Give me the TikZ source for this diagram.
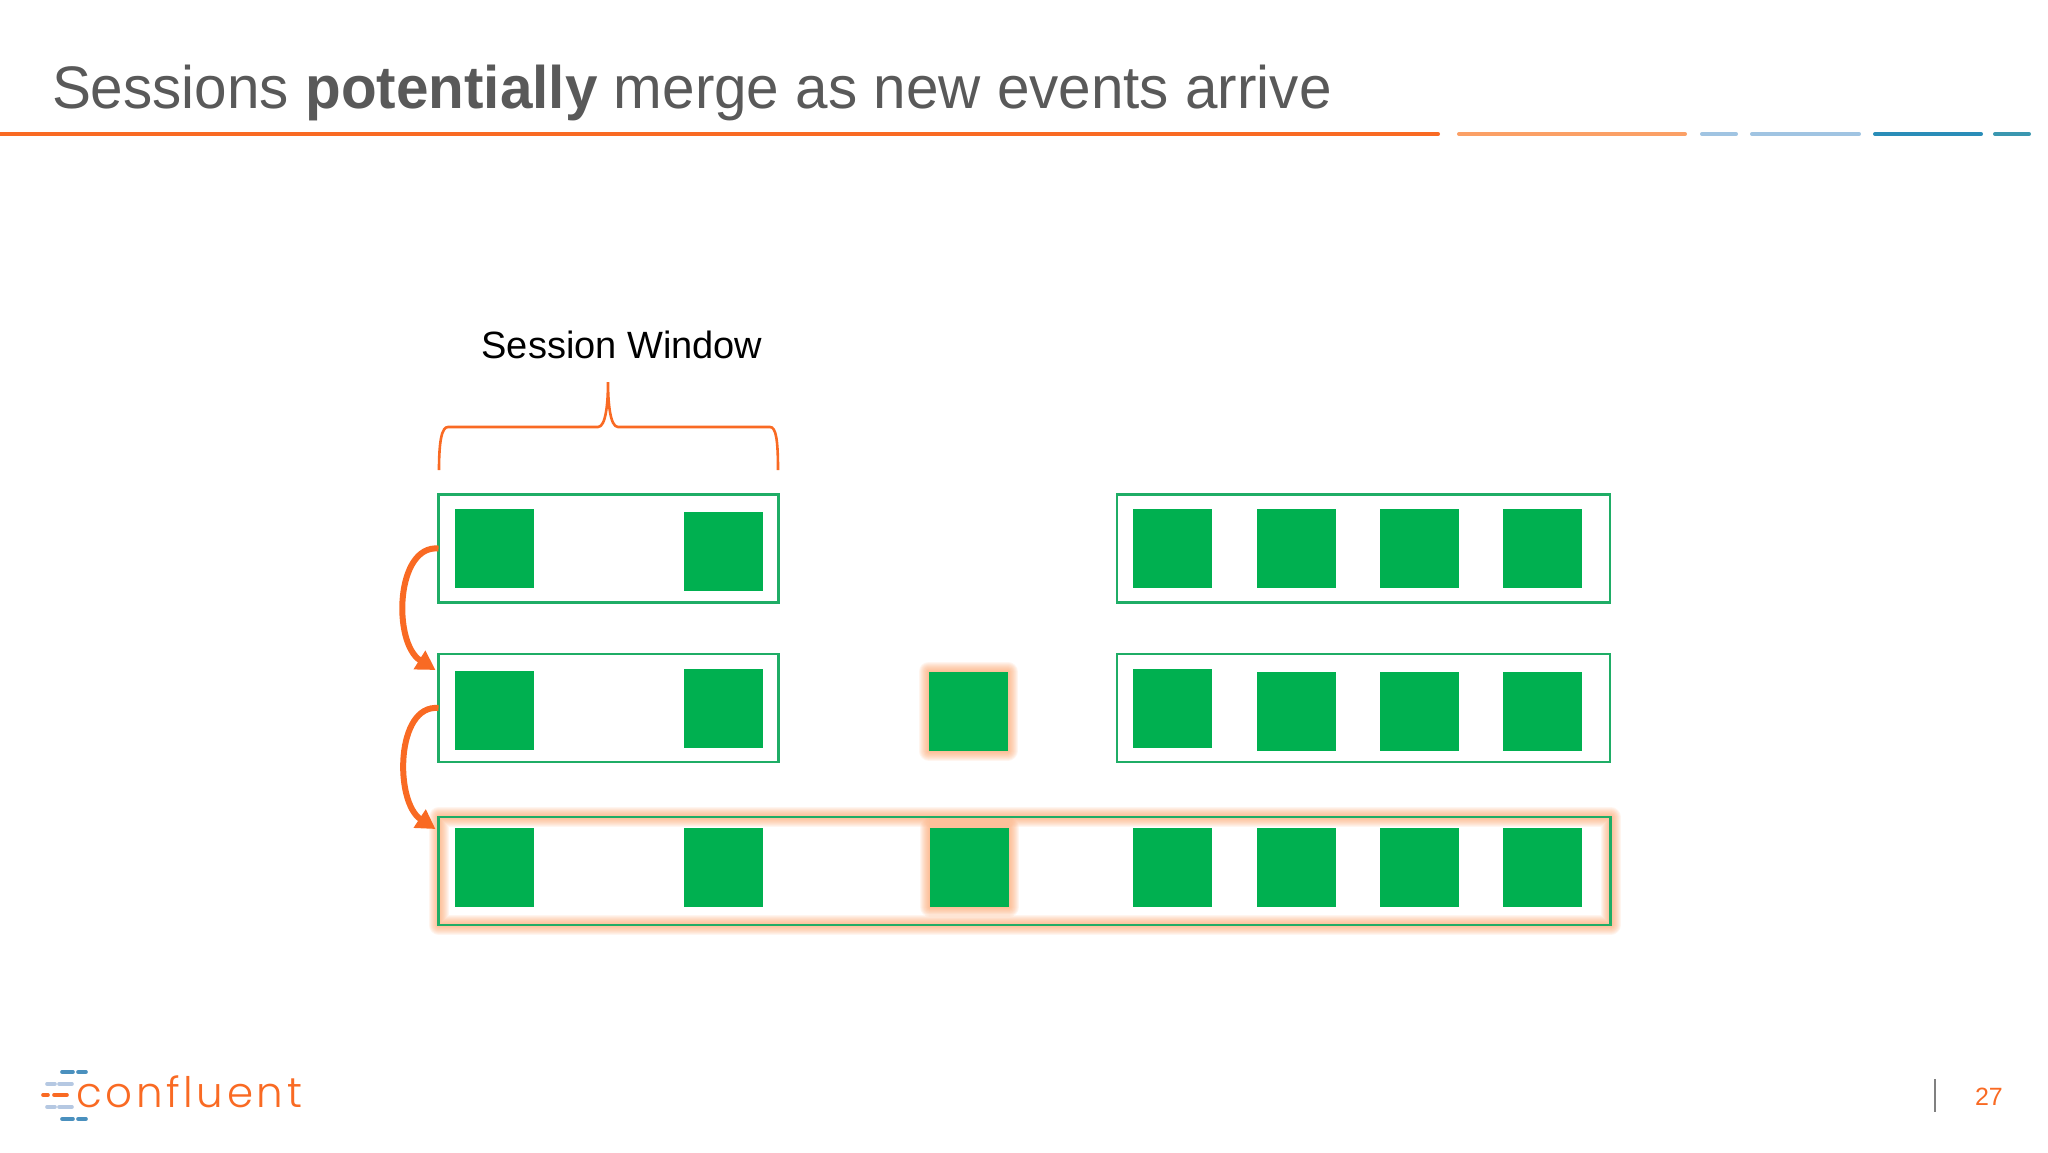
\documentclass[tikz,border=0pt]{standalone}
\usepackage{fontspec}
\setmainfont{Liberation Sans}
\newfontfamily\titlefont[FakeStretch=0.974]{Liberation Sans}
\newfontfamily\logofont[LetterSpace=8.7,UprightFont={* Light}]{Poppins}
\usetikzlibrary{arrows.meta,backgrounds}
\definecolor{cfOrange}{HTML}{F96A23}
\definecolor{cfPeach}{HTML}{FBA066}
\definecolor{cfGreen}{HTML}{00B050}
\definecolor{cfFrame}{HTML}{1FAD66}
\definecolor{cfGrey}{HTML}{595959}
\definecolor{cfSky}{HTML}{A0C4E2}
\definecolor{cfBlue}{HTML}{2A8DB8}
\definecolor{cfTeal}{HTML}{3A97B0}
\definecolor{cfDeep}{HTML}{4A90BE}
\definecolor{cfPale}{HTML}{B5C8E2}

\begin{document}
\begin{tikzpicture}[x=0.5pt,y=-0.5pt,every node/.style={inner sep=0pt,outer sep=0pt}]
	\tikzset{event/.style={fill=cfGreen,minimum size=39.5pt}}
	\tikzset{win/.style={draw=cfFrame,line width=1.1pt,minimum height=54pt}}
	\tikzset{rulebar/.style={line width=2pt,line cap=round}}
	\tikzset{merge/.style={draw=cfOrange,line width=3pt,-{Triangle[length=9.5pt,width=10.5pt]}}}
	\tikzset{glowline/.style={draw=cfPeach,opacity=0.1,line join=round}}
	\useasboundingbox (0,0) rectangle (2048,1152);

	\node[anchor=base west,text=cfGrey,font=\titlefont\fontsize{30}{36}\selectfont] (title) at (52,108) {Sessions \textbf{potentially} merge as new events arrive};
	\foreach \xa/\xb/\col in {0/1438/cfOrange,1459/1685/cfPeach,1702/1736/cfSky,1752/1859/cfSky,1875/1981/cfBlue,1995/2029/cfTeal}
		\draw[rulebar,\col] (\xa,134) -- (\xb,134);

	\node[anchor=base,font=\fontsize{19}{23}\selectfont] (winlabel) at (622,358) {Session Window};
	\coordinate (braceL) at (439,470);
	\coordinate (braceR) at (778,470);
	\coordinate (braceT) at (608,382);
	\draw[cfOrange,line width=1.3pt] (braceL) .. controls +(0,-30) and +(-6,0) .. (448,427) -- (598,427)
		.. controls +(8,0) and +(0,20) .. (braceT) .. controls +(0,20) and +(-8,0) .. (618,427) -- (770,427)
		.. controls +(6,0) and +(0,-30) .. (braceR);

	\node[win,minimum width=170pt] (rowA) at (608.5,548.5) {};
	\node[win,minimum width=246.5pt] (rowAr) at (1363.5,548.5) {};
	\node[win,minimum width=170pt] (rowB) at (608.5,708) {};
	\node[win,minimum width=246.5pt] (rowBr) at (1363.5,708) {};
	\node[win,minimum width=586pt] (rowC) at (1024.5,871) {};

	\foreach \n/\x/\y in {a1/494.5/548,a2/723.5/551,a3/1172.5/548,a4/1296/548,a5/1419/548,a6/1542.5/548,
		b1/494.5/710.5,b2/723.5/708,b3/968/711,b4/1172.5/708,b5/1296/711,b6/1419/711,b7/1542.5/711,
		c1/494.5/867.5,c2/723.5/867.5,c3/969.5/867.5,c4/1172.5/867.5,c5/1296/867.5,c6/1419/867.5,c7/1542.5/867.5}
		\node[event] (\n) at (\x,\y) {};

	\begin{scope}[on background layer]
		\foreach \w in {10,9,8,7,6,5,4,3,2,1} {
			\draw[glowline,line width=\w pt] (rowC.north west) rectangle (rowC.south east);
			\draw[glowline,line width=\w pt] (b3.north west) rectangle (b3.south east);
			\draw[glowline,line width=\w pt] (c3.north west) rectangle (c3.south east);
		}
	\end{scope}

	\draw[merge] (rowA.west) .. controls +(-43,-4) and +(-43,-27) .. ([shift={(-3,16)}]rowB.north west);
	\draw[merge] (rowB.west) .. controls +(-43,-4) and +(-41,-27) .. ([shift={(-3,12)}]rowC.north west);

	\node[anchor=base west,text=cfOrange,font=\logofont\fontsize{21}{25}\selectfont] (logo) at (76,1107) {confluent};
	\foreach \xa/\xb/\y/\col in {62/73/1072/cfDeep,78/86/1072/cfDeep,47/55/1084/cfPale,59/72/1084/cfPale,43/48/1095/cfOrange,54/67/1095/cfOrange,47/55/1107/cfPale,59/72/1107/cfPale,62/73/1119/cfDeep,78/86/1119/cfDeep}
		\draw[\col,line width=1.8pt,line cap=round] (\xa,\y) -- (\xb,\y);

	\draw[black!50,line width=1pt] (1935,1079) -- (1935,1112);
	\node[anchor=base west,text=cfOrange,font=\fontsize{12.5}{15}\selectfont] (pagenum) at (1975,1105) {27};
\end{tikzpicture}
\end{document}
